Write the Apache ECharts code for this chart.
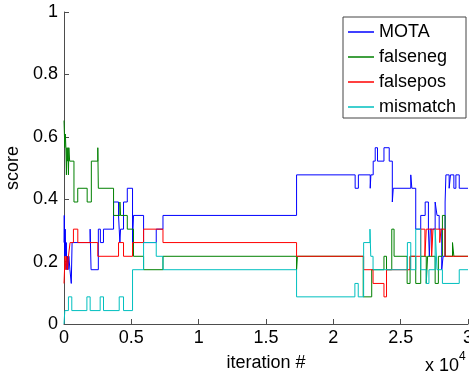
<!DOCTYPE html>
<html>
<head>
<meta charset="utf-8">
<script src="https://cdn.jsdelivr.net/npm/echarts@6/dist/echarts.min.js"></script>
<style>
  html, body { margin: 0; padding: 0; background: #fff; }
  #chart { width: 469px; height: 376px; }
</style>
</head>
<body>
<div id="chart"></div>
<script>
// Tracking scores over training iterations (step traces)
const seriesNames = ['MOTA', 'falseneg', 'falsepos', 'mismatch'];

const motaIter = [0,20,50,90,130,170,210,260,300,360, 440,540,600,1940,2010,2550,2700,2930,3680,4050,
  4100,4150,4200,4420,4700,5090,5160,5910,6850,7350, 17270,21620,21860,22740,22790,22960,23110,23280,23760,24150,
  24380,24450,25750,25830,26120,26490,26820,27060,27130,27200, 27560,27700,27860,28050,28150,28300,28360,28600,28700,28950,
  29100,29350,30000];
const motaScore = [0.261,0.348,0.217,0.304,0.217,0.261,0.174,0.217,0.174,0.217, 0.174,0.130,0.261,0.304,0.174,0.304,0.261,0.304,0.391,0.348,
  0.304,0.261,0.304,0.391,0.435,0.261,0.348,0.261,0.304,0.348, 0.478,0.435,0.478,0.435,0.478,0.522,0.565,0.522,0.565,0.522,
  0.391,0.435,0.478,0.435,0.304,0.348,0.391,0.304,0.217,0.304, 0.391,0.348,0.304,0.174,0.217,0.391,0.478,0.435,0.478,0.435,
  0.478,0.435,0.435];

const falsenegIter = [0,60,100,140,180,210,260,290,330,360, 420,740,1020,1720,2030,2510,2550,3680,4150,4200,
  4700,5160,5910,7350,17270,17330,22220,22850,23760,23950, 24340,24510,25480,25700,26120,26490,26900,27000,27560,27800,
  28100,28300,28850,28950,30000];
const falsenegScore = [0.652,0.565,0.609,0.565,0.478,0.565,0.522,0.565,0.478,0.565, 0.522,0.391,0.435,0.391,0.522,0.565,0.435,0.348,0.391,0.348,
  0.304,0.217,0.174,0.217,0.174,0.217,0.087,0.174,0.217,0.174, 0.304,0.217,0.130,0.217,0.130,0.217,0.130,0.217,0.130,0.217,
  0.348,0.217,0.261,0.217,0.217];

const falseposIter = [0,80,130,200,260,330,450,700,1025,2510, 4050,4420,5090,5910,7350,17270,22250,22950,23760,23950,
  25700,26490,26800,26900,27300,27400,27900,28000,28300,30000];
const falseposScore = [0.130,0.217,0.174,0.217,0.174,0.217,0.261,0.304,0.261,0.217, 0.261,0.217,0.261,0.304,0.261,0.217,0.174,0.130,0.087,0.174,
  0.217,0.304,0.217,0.304,0.217,0.304,0.261,0.304,0.217,0.217];

const mismatchIter = [0,60,330,578,1700,1942,2686,2934,4100,4420, 5090,5910,6850,7350,17270,21600,21850,22250,22720,22780,
  22950,25500,25750,26120,26490,26900,27100,27560,27700,28100, 29350,30000];
const mismatchScore = [0,0.043,0.087,0.043,0.087,0.043,0.087,0.043,0.087,0.043, 0.174,0.261,0.217,0.174,0.087,0.130,0.087,0.261,0.304,0.217,
  0.174,0.261,0.174,0.304,0.174,0.130,0.174,0.304,0.174,0.130, 0.174,0.174];

const xTicks = [0, 5000, 10000, 15000, 20000, 25000, 30000];
const yTicks = [0, 0.2, 0.4, 0.6, 0.8, 1];
const xScaleNote = ['x 10', '4'];

const colors = ['#0000ff', '#008000', '#ff0000', '#00bfbf'];
const FONT = "'Liberation Sans', Arial, Helvetica, sans-serif";
const AXIS_COLOR = '#4d4d4d';

function zip(xs, ys) { return xs.map((x, i) => [x, ys[i]]); }
const traces = [
  zip(motaIter, motaScore),
  zip(falsenegIter, falsenegScore),
  zip(falseposIter, falseposScore),
  zip(mismatchIter, mismatchScore)
];

const chart = echarts.init(document.getElementById('chart'), null, { renderer: 'canvas' });
chart.setOption({
  animation: false,
  backgroundColor: '#fff',
  grid: { left: 64, right: 1, top: 12, bottom: 52, containLabel: false, outerBoundsMode: 'none' },
  xAxis: {
    type: 'value',
    min: xTicks[0], max: xTicks[xTicks.length - 1], interval: xTicks[1] - xTicks[0],
    name: 'iteration #', nameLocation: 'middle', nameGap: 30,
    nameTextStyle: { fontSize: 18, fontFamily: FONT, color: '#000' },
    axisLine: { show: true, onZero: false, lineStyle: { color: AXIS_COLOR, width: 1 } },
    axisTick: { show: true, inside: true, length: 5, lineStyle: { color: AXIS_COLOR } },
    axisLabel: { show: true, margin: 5, fontSize: 18, fontFamily: FONT, color: '#000',
      formatter: v => String(v / 10000), showMinLabel: true, showMaxLabel: true },
    splitLine: { show: false }
  },
  yAxis: {
    type: 'value',
    min: yTicks[0], max: yTicks[yTicks.length - 1], interval: yTicks[1] - yTicks[0],
    name: 'score', nameLocation: 'middle', nameGap: 32,
    nameTextStyle: { fontSize: 18, fontFamily: FONT, color: '#000' },
    axisLine: { show: true, lineStyle: { color: AXIS_COLOR, width: 1 } },
    axisTick: { show: true, inside: true, length: 5, lineStyle: { color: AXIS_COLOR } },
    axisLabel: { show: true, margin: 6, fontSize: 18, fontFamily: FONT, color: '#000',
      formatter: v => String(Math.round(v * 10) / 10) },
    splitLine: { show: false }
  },
  legend: {
    data: seriesNames,
    orient: 'vertical',
    left: 343, top: 17,
    padding: [6, 10, 2, 5],
    itemGap: 7,
    itemWidth: 26, itemHeight: 1.5,
    icon: 'rect',
    backgroundColor: '#fff',
    borderColor: '#444', borderWidth: 1,
    textStyle: { fontSize: 18, fontFamily: FONT, color: '#000' }
  },
  graphic: [
    { type: 'text', left: 425, top: 357, style: { text: xScaleNote[0], fontSize: 18, fontFamily: FONT, fill: '#000' } },
    { type: 'text', left: 459, top: 351, style: { text: xScaleNote[1], fontSize: 12, fontFamily: FONT, fill: '#000' } }
  ],
  series: seriesNames.map((name, i) => ({
    name: name,
    type: 'line',
    step: 'end',
    data: traces[i],
    showSymbol: false,
    symbol: 'none',
    color: colors[i],
    lineStyle: { color: colors[i], width: 1 },
    itemStyle: { color: colors[i] },
    clip: true
  }))
});
</script>
</body>
</html>
